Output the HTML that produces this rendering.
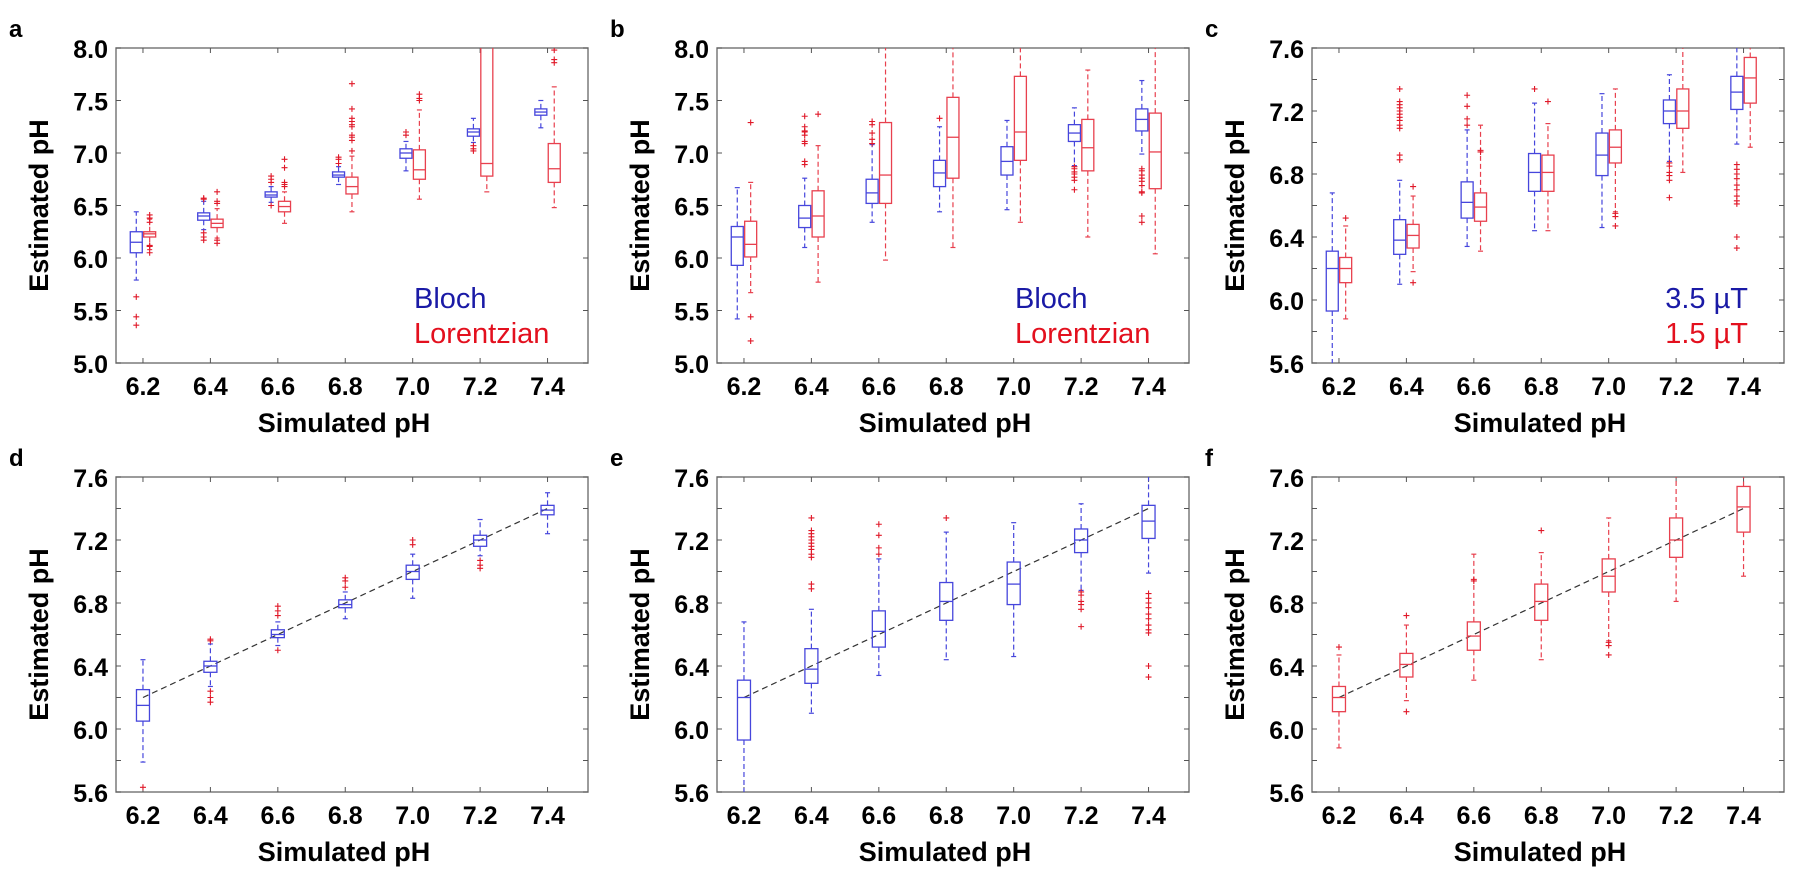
<!DOCTYPE html>
<html><head><meta charset="utf-8">
<style>
html,body{margin:0;padding:0;background:#fff;}
svg{display:block;}
text{font-family:"Liberation Sans",Arial,sans-serif;}
</style></head>
<body>
<svg id="fig" width="1800" height="880" viewBox="0 0 1800 880" xmlns="http://www.w3.org/2000/svg"></svg>
<script>
// ---------- data ----------
const categories = [6.2, 6.4, 6.6, 6.8, 7.0, 7.2, 7.4];
const tickLabelsX = ["6.2","6.4","6.6","6.8","7.0","7.2","7.4"];

// Panel a - Bloch
const aB_lo  = [5.79, 6.27, 6.53, 6.70, 6.83, 7.10, 7.24];
const aB_q1  = [6.05, 6.36, 6.58, 6.77, 6.95, 7.16, 7.36];
const aB_med = [6.15, 6.40, 6.60, 6.79, 7.00, 7.20, 7.39];
const aB_q3  = [6.25, 6.43, 6.63, 6.82, 7.04, 7.23, 7.42];
const aB_hi  = [6.44, 6.54, 6.68, 6.87, 7.11, 7.33, 7.50];
const aB_out = [[5.63,5.44,5.36],[6.57,6.56,6.24,6.20,6.17],[6.78,6.75,6.72,6.50],[6.96,6.94,6.90],[7.20,7.17],[7.07,7.04,7.02],[]];
// Panel a - Lorentzian
const aL_lo  = [6.08, 6.19, 6.33, 6.44, 6.56, 6.63, 6.48];
const aL_q1  = [6.20, 6.29, 6.44, 6.61, 6.75, 6.78, 6.72];
const aL_med = [6.23, 6.33, 6.49, 6.68, 6.84, 6.90, 6.85];
const aL_q3  = [6.25, 6.37, 6.54, 6.77, 7.03, 8.30, 7.09];
const aL_hi  = [6.37, 6.47, 6.63, 6.97, 7.41, 8.60, 7.63];
const aL_out = [[6.41,6.38,6.34,6.12,6.11,6.05],[6.63,6.54,6.52,6.17,6.14],[6.94,6.86,6.72,6.70,6.68],[7.66,7.42,7.33,7.30,7.27,7.25,7.17,7.15,7.12,7.02],[7.56,7.52,7.50],[],[7.98,7.89,7.86]];

// Panel b - Bloch
const bB_lo  = [5.42, 6.10, 6.34, 6.44, 6.46, 6.88, 6.99];
const bB_q1  = [5.93, 6.29, 6.52, 6.68, 6.79, 7.11, 7.21];
const bB_med = [6.20, 6.38, 6.62, 6.81, 6.92, 7.19, 7.32];
const bB_q3  = [6.30, 6.50, 6.75, 6.93, 7.06, 7.27, 7.42];
const bB_hi  = [6.67, 6.76, 7.08, 7.25, 7.31, 7.43, 7.69];
const bB_out = [[],[7.35,7.25,7.21,7.20,7.17,7.11,7.09,6.92,6.89],[7.30,7.27,7.19,7.13,7.09],[7.33],[],[6.87,6.85,6.82,6.80,6.77,6.74,6.65],[6.85,6.83,6.79,6.76,6.73,6.69,6.63,6.62,6.40,6.34]];
// Panel b - Lorentzian
const bL_lo  = [5.67, 5.77, 5.98, 6.10, 6.34, 6.20, 6.04];
const bL_q1  = [6.01, 6.20, 6.52, 6.76, 6.93, 6.83, 6.66];
const bL_med = [6.13, 6.40, 6.79, 7.15, 7.20, 7.05, 7.01];
const bL_q3  = [6.35, 6.64, 7.29, 7.53, 7.73, 7.32, 7.38];
const bL_hi  = [6.72, 7.07, 8.40, 8.50, 8.50, 7.79, 8.40];
const bL_out = [[7.29,5.44,5.21],[7.37],[],[],[],[],[]];

// Panel c - 3.5 uT (also panel e)
const cB_lo  = [5.40, 6.10, 6.34, 6.44, 6.46, 6.88, 6.99];
const cB_q1  = [5.93, 6.29, 6.52, 6.69, 6.79, 7.12, 7.21];
const cB_med = [6.20, 6.38, 6.62, 6.81, 6.92, 7.20, 7.32];
const cB_q3  = [6.31, 6.51, 6.75, 6.93, 7.06, 7.27, 7.42];
const cB_hi  = [6.68, 6.76, 7.08, 7.25, 7.31, 7.43, 7.80];
const cB_out = [[],[7.34,7.26,7.24,7.22,7.20,7.18,7.16,7.14,7.11,7.09,6.92,6.89],[7.30,7.23,7.15,7.11],[7.34],[],[6.87,6.85,6.81,6.79,6.76,6.65],[6.86,6.83,6.80,6.77,6.73,6.70,6.66,6.63,6.61,6.40,6.33]];
// Panel c - 1.5 uT (also panel f)
const cL_lo  = [5.88, 6.18, 6.31, 6.44, 6.56, 6.81, 6.97];
const cL_q1  = [6.11, 6.33, 6.50, 6.69, 6.87, 7.09, 7.25];
const cL_med = [6.20, 6.41, 6.59, 6.81, 6.97, 7.20, 7.41];
const cL_q3  = [6.27, 6.48, 6.68, 6.92, 7.08, 7.34, 7.54];
const cL_hi  = [6.47, 6.66, 7.11, 7.12, 7.34, 7.80, 7.80];
const cL_out = [[6.52],[6.72,6.11],[6.94,6.95],[7.26],[6.55,6.53,6.47],[],[]];

const yTicksAB = [5.0,5.5,6.0,6.5,7.0,7.5,8.0];
const yTicksFine = [5.6,5.8,6.0,6.2,6.4,6.6,6.8,7.0,7.2,7.4,7.6];
const yLabelsFine = ["5.6","","6.0","","6.4","","6.8","","7.2","","7.6"];
const yLabelsAB = ["5.0","5.5","6.0","6.5","7.0","7.5","8.0"];

// ---------- drawing ----------
const NS = "http://www.w3.org/2000/svg";
const svg = document.getElementById("fig");
const BLUE = "#4646dc", RED = "#e8404e", OUT = "#e01828";
const W = 472, H = 315, XMIN = 6.12, XMAX = 7.52;

function mk(tag, attrs, parent) {
  const e = document.createElementNS(NS, tag);
  for (const k in attrs) e.setAttribute(k, attrs[k]);
  (parent || svg).appendChild(e);
  return e;
}

function drawPanel(p) {
  const g = mk("g", {});
  
  
  const L = p.left, T = p.top;
  const xs = v => L + (v - XMIN) / (XMAX - XMIN) * W;
  const ys = v => T + H - (v - p.ymin) / (p.ymax - p.ymin) * H;

  const cid = "clip" + p.letter;
  const cp = mk("clipPath", {id: cid}, g);
  mk("rect", {x: L, y: T, width: W, height: H}, cp);

  // panel letter
  const lt = mk("text", {x: L - 107, y: T - 11, "font-size": 24, "font-weight": "bold", fill: "#000"}, g);
  lt.textContent = p.letter;
  
  

  // frame
  const fr = mk("rect", {x: L, y: T, width: W, height: H, fill: "none", stroke: "#7a7a7a", "stroke-width": 1.5}, g);
  
  

  // x ticks
  categories.forEach((c, i) => {
    const x = xs(c);
    mk("line", {x1: x, y1: T + H, x2: x, y2: T + H - 5, stroke: "#555", "stroke-width": 1}, g);
    mk("line", {x1: x, y1: T, x2: x, y2: T + 5, stroke: "#555", "stroke-width": 1}, g);
    const t = mk("text", {x: x, y: T + H + 32, "font-size": 25, "font-weight": "bold", "text-anchor": "middle"}, g);
    t.textContent = tickLabelsX[i];
    
    
  });
  // y ticks
  p.yticks.forEach((v, i) => {
    const y = ys(v);
    mk("line", {x1: L, y1: y, x2: L + 5, y2: y, stroke: "#555", "stroke-width": 1}, g);
    mk("line", {x1: L + W, y1: y, x2: L + W - 5, y2: y, stroke: "#555", "stroke-width": 1}, g);
    if (p.ylabels[i]) {
      const t = mk("text", {x: L - 8, y: y + 10, "font-size": 25, "font-weight": "bold", "text-anchor": "end"}, g);
      t.textContent = p.ylabels[i];
      
      
    }
  });
  // axis titles
  const xt = mk("text", {x: L + W / 2 - 8, y: T + H + 69, "font-size": 27, "font-weight": "bold", "text-anchor": "middle"}, g);
  xt.textContent = "Simulated pH";
  
  
  const yt = mk("text", {x: 0, y: 0, "font-size": 27, "font-weight": "bold", "text-anchor": "middle",
    transform: `translate(${L - 68},${T + H / 2}) rotate(-90)`}, g);
  yt.textContent = "Estimated pH";
  
  

  const dg = mk("g", {"clip-path": `url(#${cid})`}, g);

  if (p.diag) {
    const dl = mk("line", {x1: xs(categories[0]), y1: ys(categories[0]), x2: xs(categories[6]), y2: ys(categories[6]),
      stroke: "#333", "stroke-width": 1.2, "stroke-dasharray": "6,4"}, dg);
    
    
  }

  p.series.forEach(s => {
    const bw = s.bw, hw = bw / 2;
    categories.forEach((c, i) => {
      const cx = xs(c) + s.off;
      const bg = mk("g", {}, dg);
      
      
      const yq1 = ys(s.q1[i]), yq3 = ys(s.q3[i]), yhi = ys(s.hi[i]), ylo = ys(s.lo[i]);
      mk("line", {x1: cx, y1: yq3, x2: cx, y2: yhi, stroke: s.color, "stroke-width": 1.2, "stroke-dasharray": "5,3"}, bg);
      mk("line", {x1: cx, y1: yq1, x2: cx, y2: ylo, stroke: s.color, "stroke-width": 1.2, "stroke-dasharray": "5,3"}, bg);
      mk("line", {x1: cx - 2.5, y1: yhi, x2: cx + 2.5, y2: yhi, stroke: s.color, "stroke-width": 1.2}, bg);
      mk("line", {x1: cx - 2.5, y1: ylo, x2: cx + 2.5, y2: ylo, stroke: s.color, "stroke-width": 1.2}, bg);
      mk("rect", {x: cx - hw, y: yq3, width: bw, height: Math.max(0.5, yq1 - yq3), fill: "none", stroke: s.color, "stroke-width": 1.3}, bg);
      mk("line", {x1: cx - hw, y1: ys(s.med[i]), x2: cx + hw, y2: ys(s.med[i]), stroke: s.color, "stroke-width": 1.3}, bg);
      s.out[i].forEach(o => {
        const oy = ys(o);
        const pl = mk("path", {d: `M${cx - 3} ${oy}H${cx + 3}M${cx} ${oy - 3}V${oy + 3}`, stroke: OUT, "stroke-width": 1.1, fill: "none"}, bg);
        
        
      });
    });
  });

  if (p.legend) {
    p.legend.forEach((lg, k) => {
      const t = mk("text", {x: lg.anchor === "end" ? L + W - 36 : L + 298, y: T + 260 + 35 * k, "font-size": 29,
        fill: lg.color, "text-anchor": lg.anchor || "start"}, g);
      t.textContent = lg.text;
      
      
    });
  }
}

function ser(name, lo, q1, med, q3, hi, out, color, off, bw) {
  return {name, lo, q1, med, q3, hi, out, color, off, bw};
}

const top1 = 48, top2 = 477;
drawPanel({letter: "a", left: 116, top: top1, ymin: 5, ymax: 8, yticks: yTicksAB, ylabels: yLabelsAB,
  series: [ser("bloch", aB_lo, aB_q1, aB_med, aB_q3, aB_hi, aB_out, BLUE, -6.7, 12),
           ser("lorentzian", aL_lo, aL_q1, aL_med, aL_q3, aL_hi, aL_out, RED, 6.7, 12)],
  legend: [{text: "Bloch", color: "#1a1aa6"}, {text: "Lorentzian", color: "#e3101e"}]});
drawPanel({letter: "b", left: 717, top: top1, ymin: 5, ymax: 8, yticks: yTicksAB, ylabels: yLabelsAB,
  series: [ser("bloch", bB_lo, bB_q1, bB_med, bB_q3, bB_hi, bB_out, BLUE, -6.7, 12),
           ser("lorentzian", bL_lo, bL_q1, bL_med, bL_q3, bL_hi, bL_out, RED, 6.7, 12)],
  legend: [{text: "Bloch", color: "#1a1aa6"}, {text: "Lorentzian", color: "#e3101e"}]});
drawPanel({letter: "c", left: 1312, top: top1, ymin: 5.6, ymax: 7.6, yticks: yTicksFine, ylabels: yLabelsFine,
  series: [ser("3.5uT", cB_lo, cB_q1, cB_med, cB_q3, cB_hi, cB_out, BLUE, -6.7, 12),
           ser("1.5uT", cL_lo, cL_q1, cL_med, cL_q3, cL_hi, cL_out, RED, 6.7, 12)],
  legend: [{text: "3.5 µT", color: "#1a1aa6", anchor: "end"}, {text: "1.5 µT", color: "#e3101e", anchor: "end"}]});
drawPanel({letter: "d", left: 116, top: top2, ymin: 5.6, ymax: 7.6, yticks: yTicksFine, ylabels: yLabelsFine, diag: true,
  series: [ser("bloch", aB_lo, aB_q1, aB_med, aB_q3, aB_hi, aB_out, BLUE, 0, 13)]});
drawPanel({letter: "e", left: 717, top: top2, ymin: 5.6, ymax: 7.6, yticks: yTicksFine, ylabels: yLabelsFine, diag: true,
  series: [ser("bloch", cB_lo, cB_q1, cB_med, cB_q3, cB_hi, cB_out, BLUE, 0, 13)]});
drawPanel({letter: "f", left: 1312, top: top2, ymin: 5.6, ymax: 7.6, yticks: yTicksFine, ylabels: yLabelsFine, diag: true,
  series: [ser("lorentzian", cL_lo, cL_q1, cL_med, cL_q3, cL_hi, cL_out, RED, 0, 13)]});
</script>
</body></html>
